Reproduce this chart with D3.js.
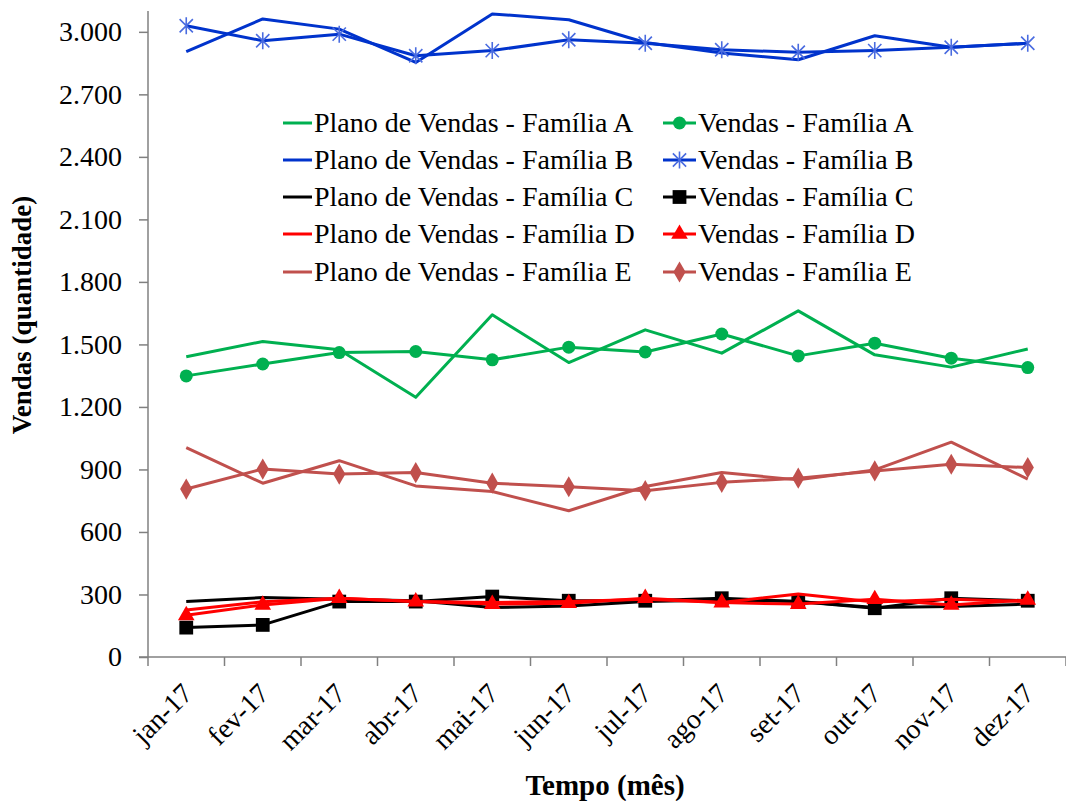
<!DOCTYPE html>
<html>
<head>
<meta charset="utf-8">
<script src="https://cdn.jsdelivr.net/npm/d3@7"></script>
<style>
  html, body { margin: 0; padding: 0; background: #fff; }
</style>
</head>
<body>
<svg id="chart" width="1066" height="801"></svg>
<script>
// Months of 2017
const months = ["jan-17","fev-17","mar-17","abr-17","mai-17","jun-17","jul-17","ago-17","set-17","out-17","nov-17","dez-17"];
const yTicks = [0, 300, 600, 900, 1200, 1500, 1800, 2100, 2400, 2700, 3000];

// Sales plan and actual sales per product family
const planoA  = [1441, 1514, 1474, 1246, 1642, 1413, 1570, 1458, 1661, 1450, 1391, 1478];
const vendasA = [1349, 1406, 1461, 1466, 1426, 1487, 1464, 1550, 1445, 1506, 1434, 1389];
const planoB  = [2905, 3062, 3013, 2853, 3086, 3058, 2949, 2898, 2866, 2981, 2926, 2945];
const vendasB = [3029, 2957, 2989, 2885, 2910, 2962, 2945, 2914, 2902, 2910, 2926, 2945];
const planoC  = [266, 285, 277, 270, 237, 245, 266, 274, 266, 237, 242, 254];
const vendasC = [141, 154, 266, 266, 290, 270, 270, 282, 266, 234, 282, 270];
const planoD  = [225, 265, 282, 266, 262, 266, 277, 262, 302, 264, 277, 266];
const vendasD = [200, 250, 282, 266, 254, 258, 282, 261, 254, 277, 250, 274];
const planoE  = [1005, 834, 942, 821, 794, 702, 818, 885, 850, 898, 1031, 854];
const vendasE = [806, 902, 878, 885, 834, 817, 798, 838, 858, 893, 925, 909];

const seriesNames = [
  "Plano de Vendas - Família A", "Vendas - Família A",
  "Plano de Vendas - Família B", "Vendas - Família B",
  "Plano de Vendas - Família C", "Vendas - Família C",
  "Plano de Vendas - Família D", "Vendas - Família D",
  "Plano de Vendas - Família E", "Vendas - Família E"
];
const seriesValues = [planoA, vendasA, planoB, vendasB, planoC, vendasC, planoD, vendasD, planoE, vendasE];
const seriesColors = ["#00B050", "#00B050", "#0033CC", "#0033CC", "#000000", "#000000", "#FF0000", "#FF0000", "#C0504D", "#C0504D"];
const seriesMarkers = [null, "circle", null, "asterisk", null, "square", null, "triangle", null, "diamond"];

const series = seriesNames.map((name, i) => ({
  name, values: seriesValues[i], color: seriesColors[i], marker: seriesMarkers[i]
}));

const FONT = "Liberation Serif";
const svg = d3.select("#chart").attr("font-family", FONT);
const margin = { left: 148, right: 1066, top: 11, bottom: 657 };

const x = d3.scaleBand().domain(months).range([margin.left, margin.right]);
const y = d3.scaleLinear().domain([0, 3100]).range([margin.bottom, margin.top]);

const ptBR = d3.formatLocale({ decimal: ",", thousands: ".", grouping: [3], currency: ["R$", ""] });
const fmt = ptBR.format(",d");

// Y axis
const yAxis = svg.append("g")
  .attr("transform", `translate(${margin.left},0)`)
  .call(d3.axisLeft(y).tickValues(yTicks).tickFormat(fmt).tickSize(9).tickPadding(17))
  .attr("font-family", FONT);
yAxis.select(".domain").attr("stroke", "#808080").attr("stroke-width", 1.5)
  .attr("d", `M0,${margin.bottom}V${margin.top}`);
yAxis.selectAll(".tick line").attr("stroke", "#808080").attr("stroke-width", 1.5);
yAxis.selectAll(".tick text").attr("font-size", 28).attr("fill", "#000");

// X axis: ticks between categories
const xAxis = svg.append("g").attr("transform", `translate(0,${margin.bottom})`);
xAxis.append("line")
  .attr("x1", margin.left - 9).attr("x2", margin.right)
  .attr("stroke", "#808080").attr("stroke-width", 1.5);
const boundaries = months.map(m => x(m)).concat([x(months[months.length - 1]) + x.bandwidth()]);
xAxis.selectAll("line.tk").data(boundaries).join("line").attr("class", "tk")
  .attr("x1", d => d).attr("x2", d => d).attr("y1", 0).attr("y2", 9)
  .attr("stroke", "#808080").attr("stroke-width", 1.5);
xAxis.selectAll("text.lbl").data(months).join("text").attr("class", "lbl")
  .attr("transform", d => `translate(${x(d) + x.bandwidth() / 2 + 8},38) rotate(-45)`)
  .attr("text-anchor", "end")
  .attr("font-size", 28)
  .text(d => d);

// Axis titles
svg.append("text")
  .attr("transform", "translate(31,315) rotate(-90)")
  .attr("text-anchor", "middle")
  .attr("font-size", 27).attr("font-weight", "bold")
  .text("Vendas (quantidade)");
svg.append("text")
  .attr("x", 605).attr("y", 795)
  .attr("text-anchor", "middle")
  .attr("font-size", 29).attr("font-weight", "bold")
  .text("Tempo (mês)");

// Marker drawing
function drawMarker(g, type, color) {
  if (type === "circle") {
    g.append("circle").attr("r", 6.5).attr("fill", color);
  } else if (type === "square") {
    g.append("path").attr("d", d3.symbol(d3.symbolSquare, 190)()).attr("fill", color);
  } else if (type === "triangle") {
    g.append("path").attr("d", d3.symbol(d3.symbolTriangle, 120)()).attr("fill", color);
  } else if (type === "diamond") {
    g.append("path").attr("d", d3.symbol(d3.symbolDiamond, 130)()).attr("fill", color);
  } else if (type === "asterisk") {
    const r = 8.5;
    const a = r * 0.78;
    g.append("path")
      .attr("d", `M0,${-r}V${r}M${-a},${-a}L${a},${a}M${-a},${a}L${a},${-a}`)
      .attr("stroke", "#4A6CE0").attr("stroke-width", 1.6).attr("fill", "none");
  }
}

const line = d3.line().x((d, i) => x(months[i]) + x.bandwidth() / 2).y(d => y(d));

const plot = svg.append("g");
series.forEach(s => {
  const g = plot.append("g");
  g.append("path")
    .attr("d", line(s.values))
    .attr("fill", "none")
    .attr("stroke", s.color)
    .attr("stroke-width", 3)
    .attr("stroke-linejoin", "round");
  if (s.marker) {
    s.values.forEach((v, i) => {
      const mg = g.append("g")
        .attr("transform", `translate(${x(months[i]) + x.bandwidth() / 2},${y(v)})`);
      drawMarker(mg, s.marker, s.color);
    });
  }
});

// Legend (two columns, row-major)
const legend = svg.append("g");
const rowY = [123, 160, 197, 234, 272];
series.forEach((s, i) => {
  const col = i % 2, row = Math.floor(i / 2);
  const lx = col === 0 ? 283 : 663;
  const lw = col === 0 ? 29 : 33;
  const g = legend.append("g").attr("transform", `translate(${lx},${rowY[row]})`);
  g.append("line").attr("x1", 0).attr("x2", lw).attr("y1", 0).attr("y2", 0)
    .attr("stroke", s.color).attr("stroke-width", 3);
  if (s.marker) {
    const mg = g.append("g").attr("transform", `translate(${lw / 2},0)`);
    drawMarker(mg, s.marker, s.color);
  }
  g.append("text")
    .attr("x", lw + 2).attr("y", 9)
    .attr("font-size", 28)
    .text(s.name);
});
</script>
</body>
</html>
